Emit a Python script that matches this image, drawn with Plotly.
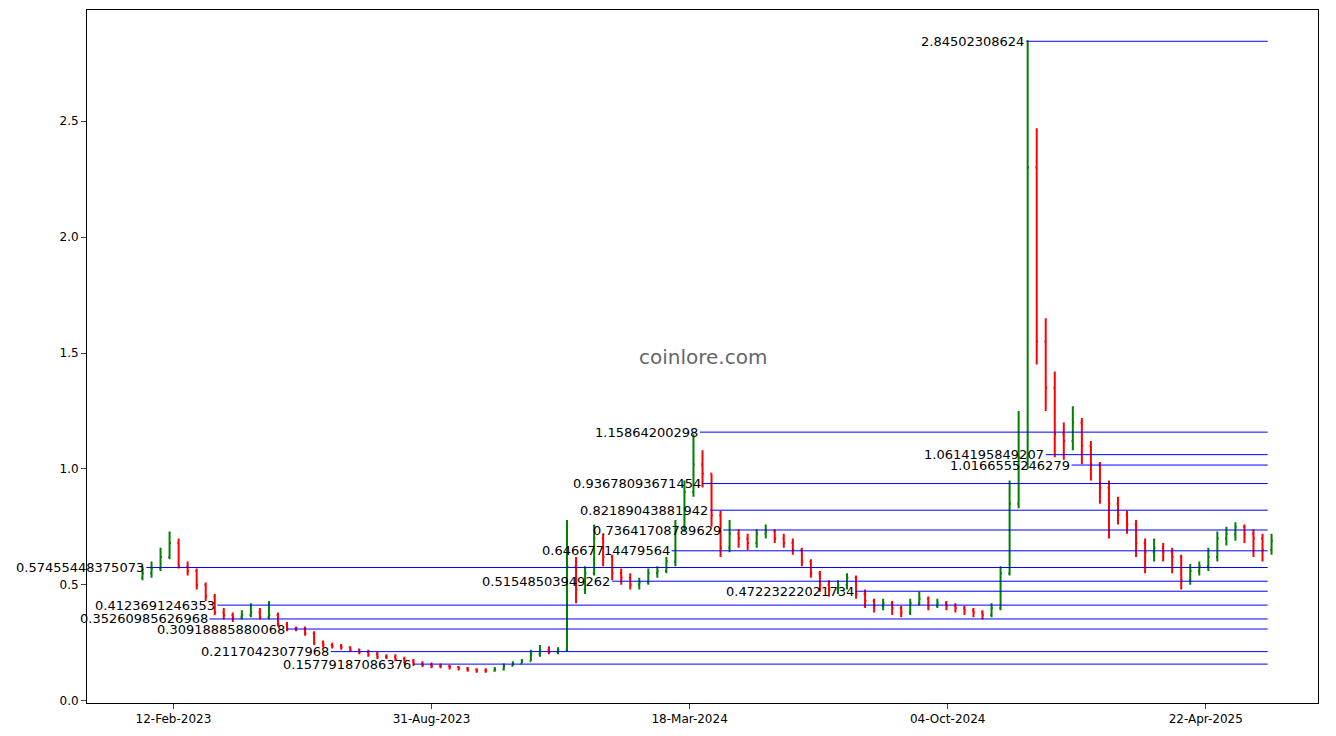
import plotly.graph_objects as go
import pandas as pd

start_date = "2023-01-19"
closes = [0.55,0.57,0.62,0.68,0.58,0.56,0.50,0.45,0.38,0.37,0.36,0.37,0.38,0.36,0.37,0.33,0.31,0.31,0.29,0.25,
          0.24,0.235,0.23,0.22,0.21,0.20,0.19,0.19,0.18,0.17,0.16,0.155,0.15,0.15,0.145,0.14,0.135,0.13,0.13,0.135,
          0.15,0.16,0.17,0.20,0.22,0.21,0.22,0.58,0.48,0.55,0.70,0.62,0.55,0.53,0.50,0.51,0.55,0.56,0.60,0.75,
          0.90,1.02,0.98,0.80,0.66,0.72,0.70,0.68,0.72,0.73,0.70,0.68,0.65,0.60,0.55,0.50,0.48,0.50,0.53,0.46,
          0.43,0.41,0.42,0.40,0.38,0.42,0.44,0.41,0.42,0.41,0.40,0.39,0.38,0.37,0.40,0.55,0.85,1.05,2.3,1.55,
          1.35,1.15,1.12,1.20,1.10,1.02,0.92,0.85,0.80,0.76,0.68,0.64,0.66,0.64,0.62,0.52,0.56,0.58,0.62,0.70,
          0.72,0.75,0.72,0.70,0.65,0.69]
first_open = 0.53
highs = [0.58,0.60,0.66,0.73,0.70,0.60,0.57,0.51,0.46,0.40,0.38,0.39,0.42,0.40,0.43,0.38,0.34,0.32,0.32,0.30,
         0.26,0.25,0.245,0.235,0.225,0.22,0.21,0.20,0.20,0.19,0.18,0.17,0.165,0.16,0.155,0.15,0.145,0.14,0.14,0.145,
         0.16,0.17,0.18,0.22,0.24,0.235,0.23,0.78,0.62,0.58,0.76,0.72,0.63,0.57,0.55,0.53,0.57,0.58,0.62,0.78,
         0.95,1.15,1.08,0.98,0.82,0.78,0.74,0.72,0.74,0.76,0.74,0.72,0.70,0.66,0.61,0.56,0.52,0.52,0.55,0.54,
         0.48,0.44,0.44,0.43,0.41,0.44,0.47,0.45,0.44,0.43,0.42,0.41,0.40,0.39,0.42,0.58,0.95,1.25,2.85,2.47,
         1.65,1.42,1.20,1.27,1.22,1.12,1.03,0.95,0.88,0.82,0.78,0.70,0.70,0.68,0.66,0.63,0.59,0.60,0.66,0.73,
         0.75,0.77,0.76,0.74,0.72,0.72]
lows = [0.52,0.53,0.56,0.61,0.57,0.54,0.48,0.43,0.37,0.35,0.34,0.35,0.36,0.35,0.35,0.32,0.30,0.30,0.28,0.24,
        0.23,0.225,0.22,0.21,0.20,0.19,0.18,0.18,0.17,0.16,0.15,0.145,0.14,0.14,0.135,0.13,0.125,0.12,0.12,0.125,
        0.13,0.15,0.16,0.17,0.19,0.20,0.20,0.21,0.42,0.46,0.54,0.58,0.52,0.50,0.48,0.48,0.50,0.53,0.55,0.58,
        0.73,0.88,0.92,0.75,0.62,0.64,0.66,0.65,0.66,0.70,0.68,0.66,0.63,0.58,0.53,0.47,0.45,0.46,0.48,0.44,
        0.40,0.38,0.39,0.37,0.36,0.37,0.41,0.39,0.40,0.39,0.38,0.37,0.36,0.35,0.36,0.39,0.54,0.83,1.00,1.45,
        1.25,1.05,1.04,1.08,1.02,0.95,0.85,0.70,0.76,0.72,0.62,0.55,0.60,0.60,0.55,0.48,0.50,0.54,0.56,0.60,
        0.67,0.69,0.68,0.62,0.60,0.63]

level_values = [2.84502308624,1.15864200298,1.0614195849207,1.0166555246279,0.93678093671454,0.82189043881942,
                0.73641708789629,0.64667714479564,0.57455448375073,0.51548503949262,0.47223222021734,
                0.4123691246353,0.35260985626968,0.30918885880068,0.21170423077968,0.15779187086376]
level_labels = ["2.84502308624","1.15864200298","1.0614195849207","1.0166555246279","0.93678093671454",
                "0.82189043881942","0.73641708789629","0.64667714479564","0.57455448375073","0.51548503949262",
                "0.47223222021734","0.4123691246353","0.35260985626968","0.30918885880068","0.21170423077968",
                "0.15779187086376"]
level_starts = ["2024-12-04","2024-03-26","2024-12-19","2025-01-08","2024-03-28","2024-04-03","2024-04-13",
                "2024-03-04","2023-01-22","2024-01-18","2024-07-25","2023-03-18","2023-03-12","2023-05-11",
                "2023-06-14","2023-08-17"]
level_end = "2025-06-09"

tick_dates = ["2023-02-12","2023-08-31","2024-03-18","2024-10-04","2025-04-22"]
tick_text = ["12-Feb-2023","31-Aug-2023","18-Mar-2024","04-Oct-2024","22-Apr-2025"]

dates = pd.date_range(start_date, periods=len(closes), freq="7D")
opens = [first_open] + closes[:-1]

fig = go.Figure(go.Ohlc(
    x=dates, open=opens, high=highs, low=lows, close=closes, tickwidth=0.15,
    increasing=dict(line=dict(color="green", width=2)),
    decreasing=dict(line=dict(color="red", width=2)),
    showlegend=False))

for v, lab, s in zip(level_values, level_labels, level_starts):
    fig.add_shape(type="line", x0=s, x1=level_end, y0=v, y1=v, line=dict(color="blue", width=1))
    fig.add_annotation(x=s, y=v, text=lab, showarrow=False, xanchor="right", yanchor="middle",
                       font=dict(size=13, color="black"))

fig.add_annotation(x=0.5, y=0.5, xref="paper", yref="paper", text="coinlore.com", showarrow=False,
                   font=dict(size=20, color="#666666"))

fig.update_layout(
    width=1336, height=736, margin=dict(l=79, r=26, t=2, b=41),
    paper_bgcolor="white", plot_bgcolor="white",
    font=dict(family="DejaVu Sans", size=12, color="black"),
    xaxis=dict(rangeslider=dict(visible=False), range=["2022-12-07", "2025-07-18"], automargin=False,
               tickvals=tick_dates, ticktext=tick_text, showgrid=False, ticks="outside",
               showline=True, linecolor="black", mirror=True, zeroline=False),
    yaxis=dict(range=[-0.01, 2.98], tickvals=[0, 0.5, 1, 1.5, 2, 2.5], automargin=False,
               ticktext=["0.0", "0.5", "1.0", "1.5", "2.0", "2.5"], showgrid=False, ticks="outside",
               showline=True, linecolor="black", mirror=True, zeroline=False),
)
fig.write_html("out.html")
